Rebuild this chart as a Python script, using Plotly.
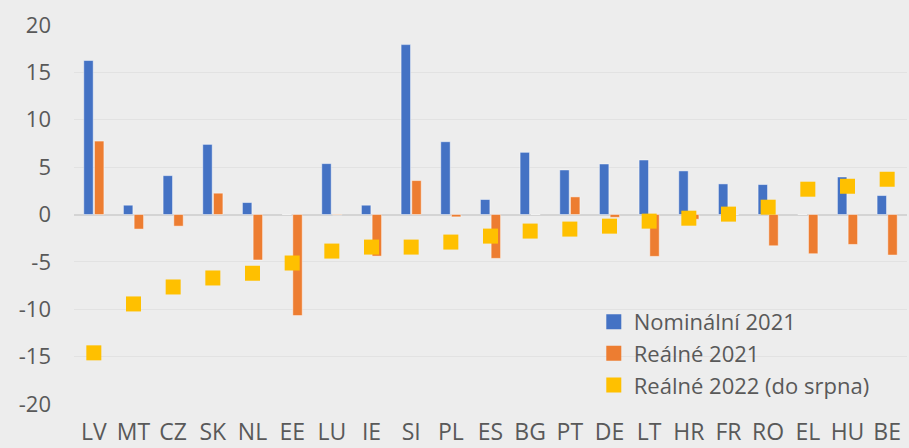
import plotly.graph_objects as go

categories = ["LV", "MT", "CZ", "SK", "NL", "EE", "LU", "IE", "SI", "PL", "ES",
              "BG", "PT", "DE", "LT", "HR", "FR", "RO", "EL", "HU", "BE"]
nominal_2021 = [16.25, 0.98, 4.1, 7.4, 1.26, 0.0, 5.37, 0.98, 17.93, 7.68, 1.58,
                6.56, 4.7, 5.33, 5.75, 4.6, 3.23, 3.16, 0.0, 3.96, 2.0]
real_2021 = [7.75, -1.54, -1.23, 2.25, -4.8, -10.67, -0.05, -4.39, 3.58, -0.25, -4.63,
             0.0, 1.86, -0.3, -4.42, -0.5, 0.0, -3.3, -4.14, -3.16, -4.28]
real_2022 = [-14.6, -9.44, -7.65, -6.7, -6.2, -5.12, -3.86, -3.44, -3.44, -2.91, -2.28,
             -1.75, -1.54, -1.23, -0.7, -0.39, 0.04, 0.77, 2.67, 2.98, 3.72]
y_ticks = [-20, -15, -10, -5, 0, 5, 10, 15, 20]
y_tick_labels = ["-20", "-15", "-10", "-5", "0", "5", "10", "15", "20"]

names = ["Nominální 2021", "Reálné 2021", "Reálné 2022 (do srpna)"]
BLUE, ORANGE, YELLOW = "#4472C4", "#ED7D31", "#FFC000"
FONT = "Open Sans"
TXT = "#595959"
BG = "#EDEDED"

fig = go.Figure()
fig.add_trace(go.Bar(x=categories, y=nominal_2021, name=names[0], marker_color=BLUE,
                     marker_line=dict(color="rgba(255,255,255,0.45)", width=1),
                     showlegend=False))
fig.add_trace(go.Bar(x=categories, y=real_2021, name=names[1], marker_color=ORANGE,
                     marker_line=dict(color="rgba(255,255,255,0.45)", width=1),
                     showlegend=False))
fig.add_trace(go.Scatter(x=categories, y=real_2022, name=names[2], mode="markers",
                         marker=dict(symbol="square", size=15, color=YELLOW),
                         showlegend=False))
for nm, col in zip(names, [BLUE, ORANGE, YELLOW]):
    fig.add_trace(go.Scatter(x=[None], y=[None], name=nm, mode="markers",
                             marker=dict(symbol="square", size=15, color=col)))

fig.update_layout(
    width=909, height=448,
    margin=dict(l=74, r=2, t=25, b=44),
    paper_bgcolor=BG, plot_bgcolor=BG,
    barmode="group", bargap=0.46, bargroupgap=0.12,
    font=dict(family=FONT, color=TXT, size=22),
    legend=dict(x=0.624, y=0.272, xanchor="left", yanchor="top",
                bgcolor="rgba(0,0,0,0)", font=dict(size=22, color=TXT),
                itemwidth=30, tracegroupgap=0),
)
fig.update_xaxes(range=[-0.5, len(categories) - 0.5], showgrid=False, zeroline=False,
                 showline=False, ticks="", tickfont=dict(size=23, color=TXT),
                 ticklabelstandoff=12, automargin=False)
fig.update_yaxes(range=[-20, 20], tickvals=y_ticks, ticktext=y_tick_labels,
                 showgrid=True, gridcolor="#E2E2E2",
                 gridwidth=1, zeroline=True, zerolinecolor="#D4D4D4", zerolinewidth=2,
                 ticks="", tickfont=dict(size=22, color=TXT), ticklabelstandoff=22,
                 automargin=False)

fig.write_html("out.html", config={"displayModeBar": False},
               post_script="document.body.style.margin='0';"
                           "document.body.style.background='" + BG + "';")
